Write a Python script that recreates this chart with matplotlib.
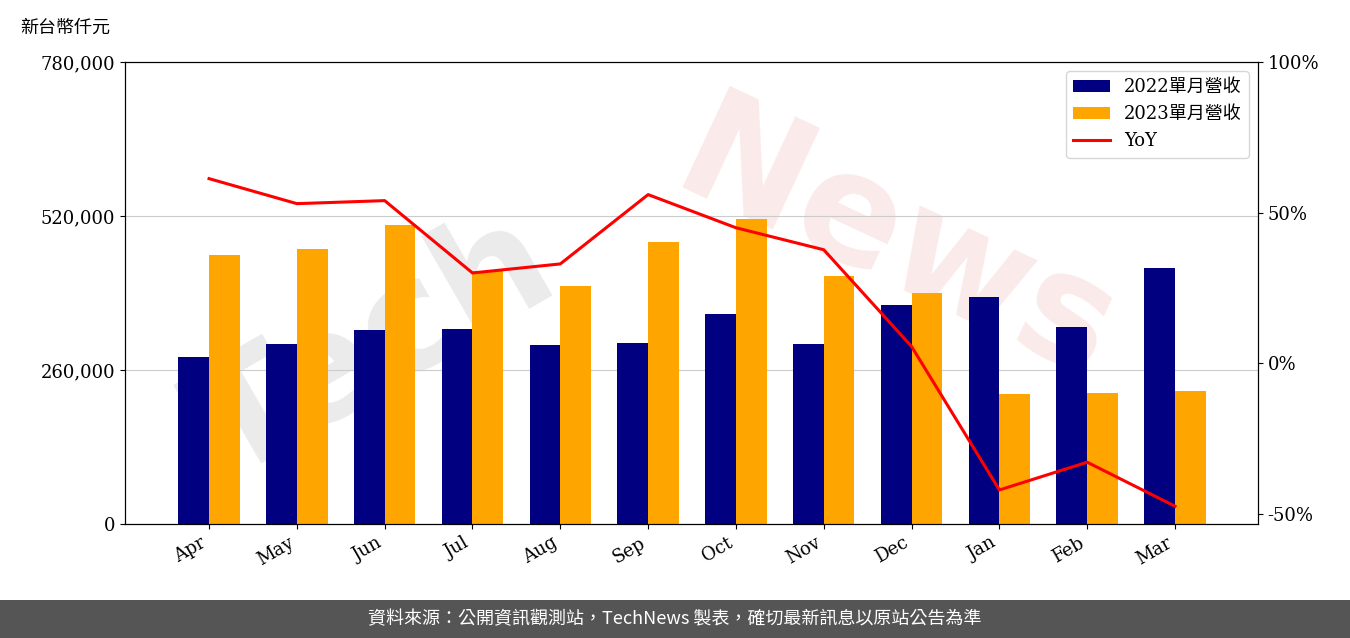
import matplotlib.pyplot as plt
import numpy as np

plt.rcParams['font.family'] = ['DejaVu Serif', 'Noto Sans CJK TC']

months = ['Apr', 'May', 'Jun', 'Jul', 'Aug', 'Sep', 'Oct', 'Nov', 'Dec', 'Jan', 'Feb', 'Mar']
rev_2022 = [282000, 304000, 327500, 329000, 302000, 305500, 354500, 304000, 369700, 383000, 332600, 432000]
rev_2023 = [454000, 464000, 504800, 427000, 401800, 476000, 515000, 418700, 390000, 219500, 221000, 224500]
yoy = [61.3, 53.0, 54.0, 30.0, 33.0, 56.0, 45.0, 37.7, 5.6, -42.0, -32.8, -47.4]

fig = plt.figure(figsize=(13.5, 6.38), dpi=100)
ax = fig.add_axes([125/1350, 1-524/638, 1133/1350, 462/638])
x = np.arange(len(months))
w = 0.35
ax.bar(x - w/2, rev_2022, w, color='#000080', label='2022單月營收', zorder=2)
ax.bar(x + w/2, rev_2023, w, color='#FFA500', label='2023單月營收', zorder=2)
ax.set_ylim(0, 780000)
ax.set_yticks([0, 260000, 520000, 780000])
ax.set_yticklabels(['0', '260,000', '520,000', '780,000'], fontsize=13)
ax.grid(axis='y', color='#cccccc', zorder=0)
ax.set_xticks(x)
ax.set_xticklabels(months, rotation=30, ha='right', fontsize=13)
ax.set_xlim(-0.957, 11.945)

# watermark
ax.text(0.22, 0.38, 'Tech', transform=ax.transAxes, fontsize=110, color='#999999', alpha=0.2,
        rotation=30, ha='center', va='center', family='DejaVu Sans', weight='bold', zorder=1)
ax.text(0.68, 0.6, 'News', transform=ax.transAxes, fontsize=110, color='#e88a8a', alpha=0.18,
        rotation=-25, ha='center', va='center', family='DejaVu Sans', weight='bold', zorder=1)

ax2 = ax.twinx()
ax2.plot(x, yoy, color='red', lw=2.2, label='YoY')
ax2.set_ylim(-53.3, 100)
ax2.set_yticks([-50, 0, 50, 100])
ax2.set_yticklabels(['-50%', '0%', '50%', '100%'], fontsize=13)

h1, l1 = ax.get_legend_handles_labels()
h2, l2 = ax2.get_legend_handles_labels()
ax2.legend(h1 + h2, l1 + l2, loc='upper right', fontsize=13)

fig.text(20/1350, 1-28/638, '新台幣仟元', fontsize=13, va='center', family='Noto Sans CJK TC')

band = fig.add_axes([0, 0, 1, 38/638])
band.set_facecolor('#555555')
band.set_xticks([])
band.set_yticks([])
for s in band.spines.values():
    s.set_visible(False)
band.text(0.5, 0.5, '資料來源：公開資訊觀測站，TechNews 製表，確切最新訊息以原站公告為準',
          color='white', fontsize=13, ha='center', va='center', family='Noto Sans CJK TC')

fig.savefig('out.png', dpi=100)
